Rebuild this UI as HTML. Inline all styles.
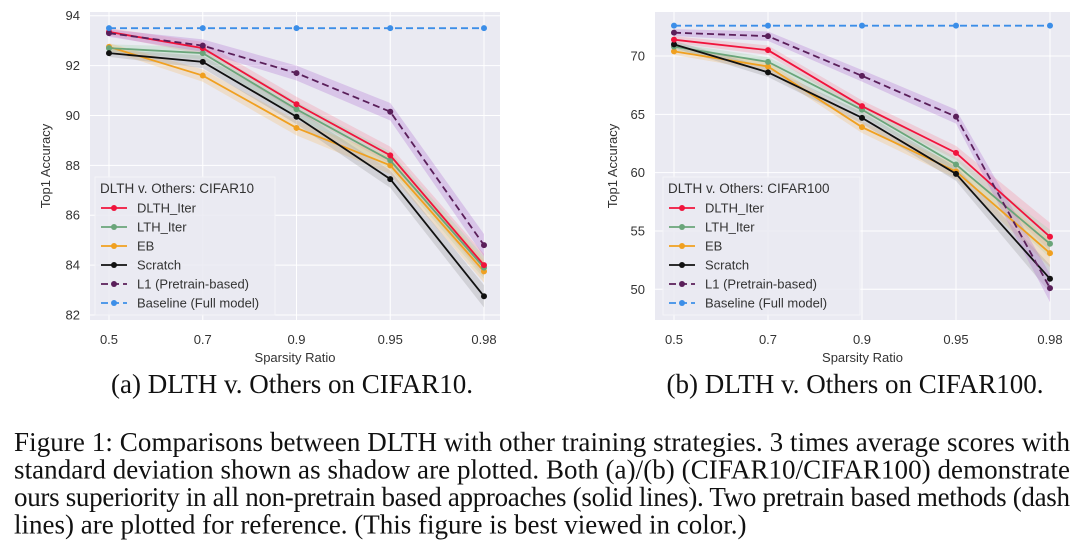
<!DOCTYPE html>
<html><head><meta charset="utf-8"><style>
html,body{margin:0;padding:0;background:#fff;}
svg{display:block;}
.tk{font-family:"Liberation Sans","DejaVu Sans",sans-serif;font-size:13px;fill:#333;}
.cap{font-family:"Liberation Serif",serif;font-size:27px;fill:#111;}
</style></head><body>
<svg id="fig" width="1080" height="547" viewBox="0 0 1080 547">
<g id="chartA"></g>
<g id="chartB"></g>
<text class="cap" x="292" y="393" text-anchor="middle">(a) DLTH v. Others on CIFAR10.</text>
<text class="cap" x="855" y="393" text-anchor="middle">(b) DLTH v. Others on CIFAR100.</text>
<text class="cap" x="14" y="451" textLength="1056" lengthAdjust="spacing">Figure 1: Comparisons between DLTH with other training strategies. 3 times average scores with</text>
<text class="cap" x="14" y="478.5" textLength="1056" lengthAdjust="spacing">standard deviation shown as shadow are plotted. Both (a)/(b) (CIFAR10/CIFAR100) demonstrate</text>
<text class="cap" x="14" y="506" textLength="1056" lengthAdjust="spacing">ours superiority in all non-pretrain based approaches (solid lines). Two pretrain based methods (dash</text>
<text class="cap" x="14" y="533.5">lines) are plotted for reference. (This figure is best viewed in color.)</text>
</svg>
<script>
const categories = ["0.5","0.7","0.9","0.95","0.98"];
const seriesNames = ["DLTH_Iter","LTH_Iter","EB","Scratch","L1 (Pretrain-based)","Baseline (Full model)"];
const seriesColors = ["#f0143c","#6aa57a","#f0a020","#111111","#5a1f5a","#3c8ee8"];
const seriesDash = [false,false,false,false,true,true];
const bandColors = ["#f58a9c","#9ed3a8","#f5c070","#999999","#b070d0","#8cc0f0"];
// CIFAR10
const a_dlth = [93.35,92.7,90.45,88.4,84.0];
const a_lth = [92.7,92.5,90.25,88.2,83.9];
const a_eb = [92.75,91.6,89.5,88.0,83.75];
const a_scratch = [92.5,92.15,89.95,87.45,82.75];
const a_l1 = [93.3,92.8,91.7,90.15,84.8];
const a_base = [93.5,93.5,93.5,93.5,93.5];
const a_std = [0.15,0.25,0.3,0.35,0.45];
const a_ticks = [82,84,86,88,90,92,94];
// CIFAR100
const b_dlth = [71.4,70.5,65.7,61.7,54.5];
const b_lth = [70.8,69.5,65.4,60.7,53.9];
const b_eb = [70.4,69.1,63.9,60.1,53.1];
const b_scratch = [71.0,68.6,64.7,59.9,50.9];
const b_l1 = [72.0,71.7,68.3,64.8,50.1];
const b_base = [72.6,72.6,72.6,72.6,72.6];
const b_std = [0.3,0.4,0.5,0.6,1.2];
const b_ticks = [50,55,60,65,70];

const NS="http://www.w3.org/2000/svg";
function mk(tag, attrs, parent){const e=document.createElementNS(NS,tag);for(const k in attrs)e.setAttribute(k,attrs[k]);parent.appendChild(e);return e;}

function draw(g, cfg){
  const xs = i => cfg.x0 + i*(cfg.x1-cfg.x0)/(categories.length-1);
  const ys = v => cfg.yA + (cfg.vA - v)*(cfg.yB-cfg.yA)/(cfg.vA-cfg.vB);
  const bg = mk('rect',{x:cfg.px0,y:cfg.py0,width:cfg.px1-cfg.px0,height:cfg.py1-cfg.py0,fill:'#eaeaf2'},g);
  
  
  cfg.ticks.forEach(t=>{
    const ln=mk('line',{x1:cfg.px0,x2:cfg.px1,y1:ys(t),y2:ys(t),stroke:'#fff','stroke-width':1},g);
    
    
    const tx=mk('text',{x:cfg.px0-10,y:ys(t)+4.5,'text-anchor':'end',class:'tk'},g);
    tx.textContent=t;
    
    
  });
  categories.forEach((c,i)=>{
    const ln=mk('line',{x1:xs(i),x2:xs(i),y1:cfg.py0,y2:cfg.py1,stroke:'#fff','stroke-width':1},g);
    
    
    const tx=mk('text',{x:xs(i),y:cfg.py1+24,'text-anchor':'middle',class:'tk'},g);
    tx.textContent=c;
    
    
  });
  const xt=mk('text',{x:(cfg.px0+cfg.px1)/2,y:cfg.py1+42,'text-anchor':'middle',class:'tk'},g);
  xt.textContent='Sparsity Ratio';
  
  
  const yt=mk('text',{x:0,y:0,'text-anchor':'middle',class:'tk',transform:`translate(${cfg.ytx},${(cfg.py0+cfg.py1)/2}) rotate(-90)`},g);
  yt.textContent='Top1 Accuracy';
  
  
  cfg.series.forEach((s,k)=>{
    if(k===5) return;
    let d='';
    s.forEach((v,i)=>{d+=(i?'L':'M')+xs(i)+','+ys(v+cfg.std[i]);});
    for(let i=s.length-1;i>=0;i--) d+='L'+xs(i)+','+ys(s[i]-cfg.std[i]);
    const p=mk('path',{d:d+'Z',fill:bandColors[k],'fill-opacity':0.3,stroke:'none'},g);
    
    
  });
  const order=[2,1,3,0,4,5];
  order.forEach(k=>{
    const s=cfg.series[k];
    const pts=s.map((v,i)=>xs(i)+','+ys(v)).join(' ');
    const pl=mk('polyline',{points:pts,fill:'none',stroke:seriesColors[k],'stroke-width':1.8,'stroke-dasharray':seriesDash[k]?'7,4':'none'},g);
    
    
    s.forEach((v,i)=>{
      const c=mk('circle',{cx:xs(i),cy:ys(v),r:3,fill:seriesColors[k]},g);
      
      
    });
  });
  const lg=mk('g',{},g);
  
  
  mk('rect',{x:cfg.lx,y:177,width:cfg.lw,height:138,fill:'#eaeaf2','fill-opacity':0.85,stroke:'#f4f4f8'},lg);
  const lt=mk('text',{x:cfg.lx+5,y:193,class:'tk',style:'font-size:13.5px'},lg);
  lt.textContent=cfg.title;
  
  
  seriesNames.forEach((n,k)=>{
    const y=208+k*19;
    const e=mk('g',{},lg);
    
    
    mk('line',{x1:cfg.lx+6,x2:cfg.lx+32,y1:y,y2:y,stroke:seriesColors[k],'stroke-width':1.8,'stroke-dasharray':seriesDash[k]?'7,4':'none'},e);
    mk('circle',{cx:cfg.lx+19,cy:y,r:3,fill:seriesColors[k]},e);
    const t=mk('text',{x:cfg.lx+42,y:y+4.5,class:'tk'},e);
    t.textContent=n;
  });
}
draw(document.getElementById('chartA'),{
  px0:90,px1:500,py0:12,py1:320,x0:109,x1:484,yA:15.7,vA:94,yB:315,vB:82,
  ticks:a_ticks,series:[a_dlth,a_lth,a_eb,a_scratch,a_l1,a_base],std:a_std,
  ytx:50,lx:95,lw:180,title:'DLTH v. Others: CIFAR10'});
draw(document.getElementById('chartB'),{
  px0:655,px1:1070,py0:12,py1:320,x0:674,x1:1050,yA:56,vA:70,yB:289.3,vB:50,
  ticks:b_ticks,series:[b_dlth,b_lth,b_eb,b_scratch,b_l1,b_base],std:b_std,
  ytx:617,lx:663,lw:197,title:'DLTH v. Others: CIFAR100'});
</script>
</body></html>
